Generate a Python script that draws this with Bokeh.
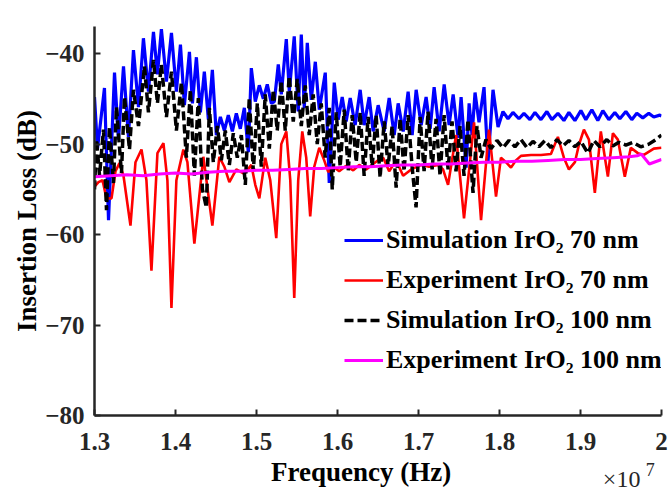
from bokeh.plotting import figure
from bokeh.models import Range1d, FixedTicker, CustomJSTickFormatter, Legend, LegendItem, Label
from bokeh.embed import file_html
from bokeh.resources import INLINE

# Frequency in units of 1e7 Hz, insertion loss in dB
sim70_f = [1.3000, 1.3037, 1.3123, 1.3173, 1.3247, 1.3296, 1.3358, 1.3419, 1.3481, 1.3543,
           1.3604, 1.3666, 1.3728, 1.3777, 1.3826, 1.3888, 1.3950, 1.4011, 1.4061, 1.4110,
           1.4172, 1.4209, 1.4258, 1.4307, 1.4356, 1.4406, 1.4455, 1.4504, 1.4554, 1.4603,
           1.4652, 1.4702, 1.4751, 1.4800, 1.4850, 1.4899, 1.4936, 1.4985, 1.5035, 1.5084,
           1.5133, 1.5183, 1.5220, 1.5269, 1.5306, 1.5368, 1.5405, 1.5466, 1.5515, 1.5553,
           1.5590, 1.5627, 1.5676, 1.5726, 1.5775, 1.5849, 1.5898, 1.5960, 1.6009, 1.6058,
           1.6107, 1.6157, 1.6218, 1.6280, 1.6329, 1.6391, 1.6440, 1.6502, 1.6576, 1.6638,
           1.6700, 1.6749, 1.6811, 1.6872, 1.6922, 1.6971, 1.7033, 1.7094, 1.7144, 1.7193,
           1.7255, 1.7317, 1.7378, 1.7428, 1.7489, 1.7526, 1.7588, 1.7625, 1.7661, 1.7698,
           1.7747, 1.7809, 1.7858, 1.7920, 1.7982, 1.8043, 1.8105, 1.8166, 1.8240, 1.8302,
           1.8376, 1.8438, 1.8512, 1.8585, 1.8647, 1.8721, 1.8795, 1.8857, 1.8931, 1.9005,
           1.9066, 1.9140, 1.9214, 1.9276, 1.9350, 1.9424, 1.9486, 1.9560, 1.9633, 1.9695,
           1.9769, 1.9843, 1.9905, 1.9979, 2.0000]
sim70_db = [-44.8, -50.5, -43.8, -58.4, -42.1, -49.5, -41.4, -49.2, -39.6, -45.9,
            -38.3, -44.2, -37.6, -42.3, -37.3, -43.1, -37.7, -44.2, -39.0, -45.7,
            -39.8, -45.5, -40.4, -46.5, -42.0, -47.3, -41.8, -49.0, -47.0, -48.5,
            -46.8, -48.6, -46.6, -48.3, -46.0, -50.9, -41.6, -45.3, -43.5, -45.0,
            -43.4, -45.5, -45.3, -41.2, -44.5, -38.4, -44.2, -38.1, -46.4, -37.9,
            -46.0, -38.8, -45.1, -40.9, -46.2, -42.1, -54.3, -43.2, -47.3, -44.8,
            -47.5, -44.9, -47.9, -44.0, -47.9, -44.8, -48.6, -45.7, -48.6, -44.9,
            -49.0, -45.5, -48.6, -44.2, -49.0, -44.0, -47.9, -44.8, -48.3, -43.7,
            -48.6, -43.4, -47.9, -44.5, -49.3, -44.8, -52.6, -45.5, -49.0, -44.3,
            -47.6, -43.7, -52.0, -44.0, -48.1, -46.4, -47.2, -46.5, -47.2, -46.6,
            -47.3, -46.5, -47.3, -46.4, -47.3, -46.6, -47.4, -46.5, -47.4, -46.3,
            -47.3, -46.2, -47.4, -46.3, -47.3, -46.5, -47.2, -46.4, -47.3, -46.6,
            -47.1, -46.6, -47.0, -46.8, -46.9]

exp70_f = [1.3000, 1.3049, 1.3099, 1.3148, 1.3210, 1.3259, 1.3308, 1.3358, 1.3444, 1.3506,
           1.3580, 1.3641, 1.3703, 1.3777, 1.3851, 1.3900, 1.3950, 1.4011, 1.4097, 1.4147,
           1.4233, 1.4344, 1.4455, 1.4541, 1.4603, 1.4665, 1.4751, 1.4850, 1.4936, 1.4985,
           1.5035, 1.5108, 1.5170, 1.5244, 1.5306, 1.5368, 1.5417, 1.5466, 1.5515, 1.5565,
           1.5614, 1.5663, 1.5713, 1.5775, 1.5836, 1.5886, 1.5947, 1.6021, 1.6107, 1.6194,
           1.6268, 1.6354, 1.6440, 1.6514, 1.6564, 1.6638, 1.6724, 1.6810, 1.6910, 1.7033,
           1.7131, 1.7242, 1.7303, 1.7365, 1.7464, 1.7562, 1.7686, 1.7772, 1.7870, 1.7957,
           1.8018, 1.8080, 1.8142, 1.8203, 1.8265, 1.8389, 1.8512, 1.8635, 1.8721, 1.8795,
           1.8857, 1.8931, 1.8980, 1.9042, 1.9104, 1.9177, 1.9251, 1.9338, 1.9400, 1.9461,
           1.9547, 1.9621, 1.9708, 1.9782, 1.9905, 2.0000]
exp70_db = [-54.7, -54.2, -54.0, -56.0, -56.0, -53.0, -52.1, -53.5, -59.0, -52.0,
            -50.6, -54.0, -64.0, -51.0, -49.9, -54.0, -68.1, -54.0, -50.6, -52.0,
            -61.0, -51.4, -59.0, -51.4, -52.5, -54.2, -52.8, -53.3, -52.3, -54.5,
            -56.0, -51.5, -54.0, -60.4, -50.0, -48.6, -54.0, -67.0, -54.0, -48.6,
            -51.5, -58.0, -52.5, -50.4, -51.8, -53.1, -52.5, -53.0, -52.4, -52.9,
            -52.3, -52.8, -52.2, -51.7, -51.5, -53.0, -51.8, -53.5, -52.8, -52.3,
            -52.5, -52.3, -52.8, -54.5, -49.0, -58.2, -47.6, -58.4, -48.4, -55.8,
            -51.5, -52.0, -52.6, -51.8, -51.3, -51.2, -51.2, -51.1, -49.2, -51.5,
            -52.8, -52.0, -50.1, -48.4, -49.5, -55.4, -48.6, -53.6, -48.8, -49.5,
            -53.6, -50.4, -51.0, -51.2, -50.5, -50.4]

sim100_f = [1.3000, 1.3025, 1.3062, 1.3111, 1.3148, 1.3185, 1.3234, 1.3271, 1.3333, 1.3370,
            1.3432, 1.3481, 1.3543, 1.3617, 1.3666, 1.3728, 1.3777, 1.3826, 1.3888, 1.3950,
            1.4011, 1.4073, 1.4134, 1.4184, 1.4233, 1.4282, 1.4332, 1.4381, 1.4418, 1.4467,
            1.4517, 1.4566, 1.4615, 1.4665, 1.4714, 1.4763, 1.4813, 1.4862, 1.4911, 1.4961,
            1.5010, 1.5059, 1.5108, 1.5158, 1.5207, 1.5256, 1.5306, 1.5355, 1.5404, 1.5454,
            1.5503, 1.5553, 1.5602, 1.5651, 1.5700, 1.5750, 1.5799, 1.5848, 1.5898, 1.5935,
            1.5984, 1.6033, 1.6083, 1.6132, 1.6181, 1.6231, 1.6280, 1.6329, 1.6378, 1.6428,
            1.6477, 1.6526, 1.6576, 1.6625, 1.6674, 1.6724, 1.6773, 1.6822, 1.6872, 1.6921,
            1.6970, 1.7020, 1.7069, 1.7118, 1.7168, 1.7217, 1.7266, 1.7316, 1.7365, 1.7414,
            1.7463, 1.7513, 1.7562, 1.7611, 1.7673, 1.7722, 1.7772, 1.7833, 1.7895, 1.7969,
            1.8043, 1.8117, 1.8191, 1.8265, 1.8339, 1.8413, 1.8487, 1.8561, 1.8635, 1.8709,
            1.8783, 1.8857, 1.8931, 1.9005, 1.9091, 1.9165, 1.9239, 1.9325, 1.9399, 1.9473,
            1.9560, 1.9646, 1.9744, 1.9843, 1.9930, 2.0000]
sim100_db = [-55.0, -49.5, -53.5, -48.4, -57.3, -48.1, -54.3, -45.9, -53.2, -44.8,
             -50.6, -44.0, -48.0, -41.4, -46.5, -40.7, -45.5, -41.2, -47.0, -42.0,
             -48.5, -43.2, -51.5, -44.0, -53.5, -44.9, -55.0, -57.0, -46.0, -52.0,
             -48.0, -51.8, -48.5, -52.3, -48.8, -51.5, -49.0, -54.5, -44.9, -53.0,
             -45.5, -52.5, -44.5, -50.5, -44.0, -48.5, -43.0, -48.5, -42.5, -47.5,
             -42.8, -48.0, -43.5, -49.0, -44.5, -50.0, -45.5, -51.5, -46.0, -55.0,
             -46.5, -52.5, -46.2, -53.0, -46.8, -52.0, -46.5, -53.5, -47.0, -52.5,
             -46.8, -53.7, -47.5, -52.5, -48.0, -54.8, -47.2, -53.0, -46.8, -52.5,
             -57.0, -47.0, -53.0, -46.4, -52.8, -47.2, -53.5, -46.8, -52.8, -47.5,
             -53.0, -48.0, -53.5, -47.3, -55.4, -48.0, -51.5, -49.5, -50.5, -49.6,
             -50.4, -49.6, -50.3, -49.5, -50.4, -49.7, -50.3, -49.6, -50.4, -49.5,
             -50.2, -49.6, -50.3, -49.7, -51.0, -49.6, -50.3, -49.5, -50.2, -49.8,
             -50.1, -49.8, -50.3, -50.0, -49.5, -49.0]

exp100_f = [1.300, 1.320, 1.340, 1.360, 1.380, 1.400, 1.420, 1.440, 1.460, 1.480,
            1.500, 1.520, 1.540, 1.560, 1.580, 1.600, 1.620, 1.640, 1.660, 1.680,
            1.700, 1.720, 1.740, 1.760, 1.780, 1.800, 1.820, 1.840, 1.860, 1.880,
            1.900, 1.920, 1.940, 1.960, 1.970, 1.975, 1.985, 2.000]
exp100_db = [-53.6, -53.5, -53.4, -53.5, -53.3, -53.2, -53.3, -53.1, -53.0, -53.0,
             -52.9, -52.9, -52.8, -52.7, -52.7, -52.6, -52.5, -52.5, -52.4, -52.3,
             -52.3, -52.2, -52.2, -52.1, -52.0, -52.0, -51.9, -51.9, -51.8, -51.7,
             -51.7, -51.6, -51.5, -51.4, -51.3, -51.1, -52.2, -51.7]

x_ticks = [1.3, 1.4, 1.5, 1.6, 1.7, 1.8, 1.9, 2.0]
y_ticks = [-80, -70, -60, -50, -40]
labels = ["Simulation IrO\u2082 70 nm", "Experiment IrO\u2082 70 nm",
          "Simulation IrO\u2082 100 nm", "Experiment IrO\u2082 100 nm"]
x_title = "Frequency (Hz)"
y_title = "Insertion Loss (dB)"

FONT = "Liberation Serif"
AX = "#262626"

p = figure(width=672, height=492, output_backend="svg", toolbar_location=None,
           x_range=Range1d(1.3, 2.0), y_range=Range1d(-80, -37.0),
           min_border_left=93, min_border_right=11, min_border_top=10, min_border_bottom=77)
p.outline_line_color = None
p.grid.grid_line_color = None
p.background_fill_color = "white"

r1 = p.line(sim70_f, sim70_db, line_color="#0000ff", line_width=3.2)
r2 = p.line(exp70_f, exp70_db, line_color="#ff0000", line_width=2.6)
r3 = p.line(sim100_f, sim100_db, line_color="#000000", line_width=3.5, line_dash="9 4")
r4 = p.line(exp100_f, exp100_db, line_color="#ff00ff", line_width=3)

p.xaxis.ticker = FixedTicker(ticks=x_ticks)
p.yaxis.ticker = FixedTicker(ticks=y_ticks)
p.xaxis.formatter = CustomJSTickFormatter(code="return (Math.round(tick*10)/10).toString();")

for ax in (p.xaxis[0], p.yaxis[0]):
    ax.axis_line_color = AX
    ax.axis_line_width = 2.5
    ax.major_tick_line_color = AX
    ax.major_tick_line_width = 2
    ax.major_tick_in = 6
    ax.major_tick_out = 0
    ax.minor_tick_line_color = None
    ax.major_label_text_font = FONT
    ax.major_label_text_font_style = "bold"
    ax.major_label_text_font_size = "25px"
    ax.major_label_text_color = AX
    ax.axis_label_text_font = FONT
    ax.axis_label_text_font_style = "bold"
    ax.axis_label_text_font_size = "27px"
    ax.axis_label_text_color = "#000000"

p.xaxis.major_label_standoff = 17
p.yaxis.major_label_standoff = 10
p.yaxis.axis_label = y_title
p.yaxis.axis_label_standoff = 0

legend = Legend(items=[LegendItem(label=labels[0], renderers=[r1]),
                       LegendItem(label=labels[1], renderers=[r2]),
                       LegendItem(label=labels[2], renderers=[r3]),
                       LegendItem(label=labels[3], renderers=[r4])],
                location=(250, 40), border_line_color=None, background_fill_alpha=0,
                label_text_font=FONT, label_text_font_style="bold", label_text_font_size="26px",
                label_text_color="#000000", glyph_width=39, glyph_height=20, label_standoff=3,
                label_height=30, spacing=10, padding=0, margin=0)
p.add_layout(legend)

# texts outside the frame live in side panels so they are not clipped to the frame
p.add_layout(Label(x=1.6292, y=-86.2, text=x_title, text_font=FONT, text_font_size="27px",
                   text_font_style="bold", text_color="#000000", text_align="center",
                   text_baseline="alphabetic"), "below")
p.add_layout(Label(x=1.9276, y=-87.0, text="\u00d710", text_font=FONT, text_font_size="24px",
                   text_color=AX, text_baseline="alphabetic"), "above")
p.add_layout(Label(x=1.9806, y=-86.0, text="7", text_font=FONT, text_font_size="18px",
                   text_color=AX, text_baseline="alphabetic"), "left")

open("out.html", "w").write(file_html(p, INLINE))
